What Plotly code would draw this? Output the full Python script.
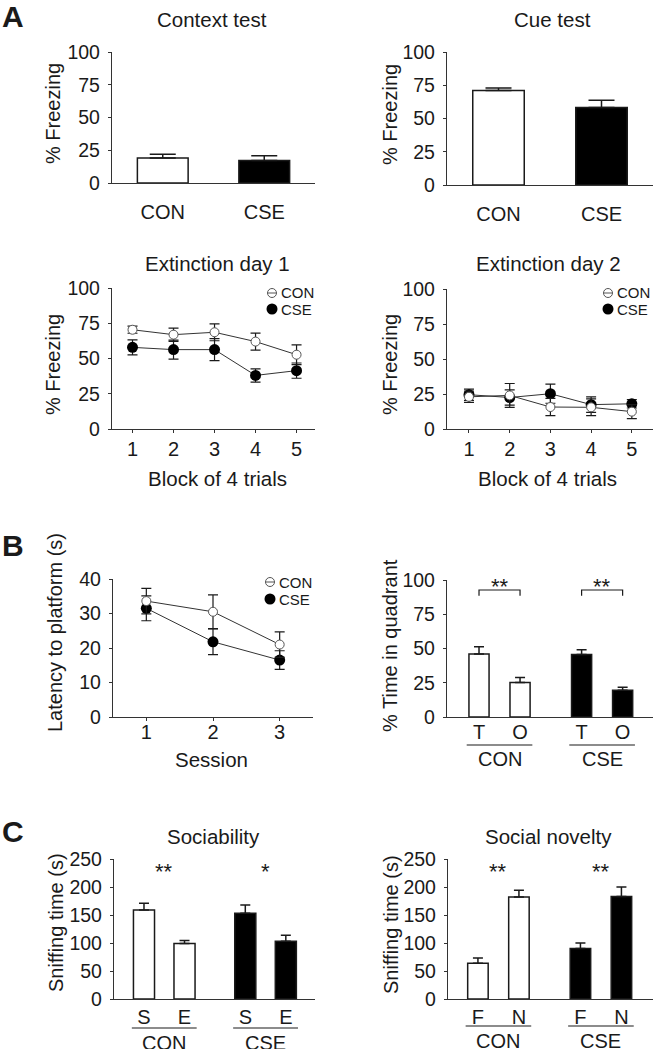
import plotly.graph_objects as go

W, H = 653, 1049
FONT = "Liberation Sans, Arial, sans-serif"
INK = "#1a1a1a"

# ---------------- data ----------------
groups = ["CON", "CSE"]
context_mean = [19.0, 17.2]
context_sem = [3.0, 3.6]
cue_mean = [71.0, 58.3]
cue_sem = [2.0, 5.5]

blocks = [1, 2, 3, 4, 5]
ext1_con = [70.4, 66.9, 68.6, 62.0, 52.7]
ext1_con_sem = [2.5, 4.7, 6.0, 6.0, 7.0]
ext1_cse = [57.9, 56.3, 56.3, 38.0, 41.4]
ext1_cse_sem = [5.3, 6.7, 7.8, 4.7, 5.4]
ext2_con = [23.0, 24.0, 15.7, 15.5, 12.4]
ext2_con_sem = [4.0, 8.5, 6.2, 6.0, 5.0]
ext2_cse = [24.5, 22.5, 25.2, 17.4, 18.0]
ext2_cse_sem = [4.0, 5.5, 6.8, 5.5, 3.0]

sessions = [1, 2, 3]
lat_con = [33.6, 30.5, 21.0]
lat_con_sem = [3.7, 4.9, 3.7]
lat_cse = [31.5, 21.8, 16.5]
lat_cse_sem = [3.6, 3.7, 2.7]

quad_labels = ["T", "O"]
quad_con = [45.9, 25.1]
quad_con_sem = [5.3, 3.7]
quad_cse = [45.6, 19.5]
quad_cse_sem = [3.4, 2.2]

soc_labels = ["S", "E"]
soc_con = [159, 99]
soc_con_sem = [12, 5.5]
soc_cse = [153, 103]
soc_cse_sem = [15, 11]

nov_labels = ["F", "N"]
nov_con = [64, 182]
nov_con_sem = [9, 12]
nov_cse = [90, 183]
nov_cse_sem = [10, 17]

# ---------------- helpers ----------------
def fx(p):
    return p / W


def fy(p):
    return 1 - p / H


pos_con = [0, 1]
pos_cse = [2.5, 3.5]

axes = {
    1: dict(x=(112, 315), y=(52, 183), xr=[-0.5, 1.5], yr=[0, 100], dt=25, kind="bar2"),
    2: dict(x=(447, 653), y=(52, 185), xr=[-0.5, 1.5], yr=[0, 100], dt=25, kind="bar2"),
    3: dict(x=(112, 315), y=(288, 429), xr=[0.5, 5.45], yr=[0, 100], dt=25, kind="line"),
    4: dict(x=(447, 653), y=(289, 429), xr=[0.46, 5.52], yr=[0, 100], dt=25, kind="line"),
    5: dict(x=(113, 313), y=(579, 717), xr=[0.5, 3.5], yr=[0, 40], dt=10, kind="line"),
    6: dict(x=(447, 653), y=(580, 717), xr=[-0.78, 4.24], yr=[0, 100], dt=25, kind="bar4"),
    7: dict(x=(114, 315), y=(859, 999), xr=[-0.74, 4.22], yr=[0, 250], dt=50, kind="bar4"),
    8: dict(x=(448, 653), y=(859, 999), xr=[-0.73, 4.27], yr=[0, 250], dt=50, kind="bar4"),
}


def xname(i):
    return "x" if i == 1 else f"x{i}"


def yname(i):
    return "y" if i == 1 else f"y{i}"


fig = go.Figure()


def err_up(sem, width):
    return dict(type="data", array=sem, arrayminus=[0] * len(sem), symmetric=False,
                color=INK, thickness=1.5, width=width, visible=True)


def err_sym(sem):
    return dict(type="data", array=sem, symmetric=True, color=INK,
                thickness=1.2, width=5, visible=True)


def bar(i, x, y, sem, fill, width, cap):
    fig.add_trace(go.Bar(
        x=x, y=y, width=width, xaxis=xname(i), yaxis=yname(i),
        marker=dict(color=fill, line=dict(color=INK, width=1.5)),
        error_y=err_up(sem, cap), showlegend=False, hoverinfo="skip"))


# Panel A: context / cue
bar(1, [0], context_mean[:1], context_sem[:1], "white", 0.5, 13)
bar(1, [1], context_mean[1:], context_sem[1:], "black", 0.5, 13)
bar(2, [0], cue_mean[:1], cue_sem[:1], "white", 0.5, 13)
bar(2, [1], cue_mean[1:], cue_sem[1:], "black", 0.5, 13)


def line_pair(i, x, con, con_sem, cse, cse_sem):
    fig.add_trace(go.Scatter(
        x=x, y=cse, mode="lines+markers", xaxis=xname(i), yaxis=yname(i),
        line=dict(color="#333", width=1),
        marker=dict(symbol="circle", size=11, color="black", line=dict(width=0)),
        error_y=err_sym(cse_sem), showlegend=False, hoverinfo="skip"))
    fig.add_trace(go.Scatter(
        x=x, y=con, mode="lines+markers", xaxis=xname(i), yaxis=yname(i),
        line=dict(color="#333", width=1),
        marker=dict(symbol="circle", size=9, color="white", line=dict(color="#555", width=1)),
        error_y=err_sym(con_sem), showlegend=False, hoverinfo="skip"))


line_pair(3, blocks, ext1_con, ext1_con_sem, ext1_cse, ext1_cse_sem)
line_pair(4, blocks, ext2_con, ext2_con_sem, ext2_cse, ext2_cse_sem)
line_pair(5, sessions, lat_con, lat_con_sem, lat_cse, lat_cse_sem)

# Panel B right, C
bar(6, pos_con, quad_con, quad_con_sem, "white", 0.49, 5)
bar(6, pos_cse, quad_cse, quad_cse_sem, "black", 0.49, 5)
bar(7, pos_con, soc_con, soc_con_sem, "white", 0.52, 5)
bar(7, pos_cse, soc_cse, soc_cse_sem, "black", 0.52, 5)
bar(8, pos_con, nov_con, nov_con_sem, "white", 0.5, 5)
bar(8, pos_cse, nov_cse, nov_cse_sem, "black", 0.5, 5)

# ---------------- axes ----------------
layout = dict(
    template="none",
    width=W, height=H, autosize=False, margin=dict(l=0, r=0, t=0, b=0, pad=0),
    paper_bgcolor="white", plot_bgcolor="white",
    font=dict(family=FONT, size=20, color=INK), showlegend=False,
    barmode="overlay",
)

xticks = {
    1: (pos_con, groups), 2: (pos_con, groups),
    3: (blocks, [str(b) for b in blocks]), 4: (blocks, [str(b) for b in blocks]),
    5: (sessions, [str(s) for s in sessions]),
    6: (pos_con + pos_cse, quad_labels * 2),
    7: (pos_con + pos_cse, soc_labels * 2),
    8: (pos_con + pos_cse, nov_labels * 2),
}
standoff = {1: 11, 2: 11, 3: -1, 4: -1, 5: -6, 6: -3, 7: 0, 8: 0}

for i, a in axes.items():
    kx = "xaxis" if i == 1 else f"xaxis{i}"
    ky = "yaxis" if i == 1 else f"yaxis{i}"
    tv, tt = xticks[i]
    layout[kx] = dict(
        domain=[fx(a["x"][0]), fx(a["x"][1])], anchor=yname(i), range=a["xr"],
        showgrid=False, zeroline=False, showline=True, linecolor="#333", linewidth=1.3,
        tickmode="array", tickvals=tv, ticktext=tt, tickfont=dict(size=20),
        ticks="outside" if a["kind"] == "line" else "", ticklen=3, tickwidth=1.3,
        tickcolor="#333", ticklabelstandoff=standoff[i], fixedrange=True,
        automargin=False,
    )
    layout[ky] = dict(
        domain=[fy(a["y"][1]), fy(a["y"][0])], anchor=xname(i), range=a["yr"],
        showgrid=False, zeroline=False, showline=True, linecolor="#333", linewidth=1.3,
        tickmode="linear", tick0=0, dtick=a["dt"], ticks="outside", ticklen=3,
        tickwidth=1.3, tickcolor="#333", ticklabelstandoff=4, fixedrange=True,
        tickfont=dict(size=19.5), automargin=False,
    )

fig.update_layout(**layout)

ann = []
shapes = []


def text(x, y, s, size=20, xref="paper", xanchor="center", angle=0, bold=False):
    ann.append(dict(x=x if xref != "paper" else fx(x), y=fy(y), xref=xref, yref="paper",
                    text=f"<b>{s}</b>" if bold else s, showarrow=False, xanchor=xanchor,
                    yanchor="middle", textangle=angle,
                    font=dict(family=FONT, size=size, color=INK)))


# panel letters
text(0, 16, "A", size=30, xanchor="left", bold=True)
text(0, 545, "B", size=30, xanchor="left", bold=True)
text(0, 831, "C", size=30, xanchor="left", bold=True)

# titles
text(212, 20, "Context test", size=20.5)
text(552, 20, "Cue test", size=20.5)
text(217, 263, "Extinction day 1", size=20.5)
text(548, 263, "Extinction day 2", size=20.5)
text(213, 836, "Sociability", size=20.5)
text(548, 836, "Social novelty", size=20.5)

# x titles
text(217, 478, "Block of 4 trials", size=20.5)
text(547, 478, "Block of 4 trials", size=20.5)
text(211, 759, "Session", size=20.5)

# y titles
text(53, 114, "% Freezing", angle=-90)
text(390, 115, "% Freezing", angle=-90)
text(53, 365, "% Freezing", angle=-90)
text(390, 365, "% Freezing", angle=-90)
text(55, 633, "Latency to platform (s)", angle=-90)
text(390, 646, "% Time in quadrant", angle=-90)
text(56, 923, "Sniffing time (s)", angle=-90)
text(391, 925, "Sniffing time (s)", angle=-90)

# legends (keys drawn as small circles)
for (mx, my_con, my_cse) in [(272, 293, 309), (608, 293, 309), (270, 582, 599)]:
    r1, r2 = 4.5, 5.5
    shapes.append(dict(type="circle", xref="paper", yref="paper",
                       x0=fx(mx - r1), x1=fx(mx + r1), y0=fy(my_con + r1), y1=fy(my_con - r1),
                       line=dict(color="#555", width=1), fillcolor="white"))
    shapes.append(dict(type="line", xref="paper", yref="paper",
                       x0=fx(mx - r1), x1=fx(mx + r1), y0=fy(my_con), y1=fy(my_con),
                       line=dict(color="#555", width=1)))
    shapes.append(dict(type="circle", xref="paper", yref="paper",
                       x0=fx(mx - r2), x1=fx(mx + r2), y0=fy(my_cse + r2), y1=fy(my_cse - r2),
                       line=dict(color="black", width=0), fillcolor="black"))
    text(mx + 7, my_con, "CON", size=15, xanchor="left")
    text(mx + 7, my_cse, "CSE", size=15, xanchor="left")

# group underline + labels for grouped bar panels
for i, yline, ylab in [(6, 745, 759), (7, 1028, 1043), (8, 1026, 1041)]:
    for (x0, x1, lab) in [(-0.3, 1.3, "CON"), (2.2, 3.8, "CSE")]:
        shapes.append(dict(type="line", xref=xname(i), yref="paper", x0=x0, x1=x1,
                           y0=fy(yline), y1=fy(yline), line=dict(color=INK, width=1.2)))
        text((x0 + x1) / 2, ylab, lab, xref=xname(i))

# significance brackets (panel B right)
for (x0, x1) in [(pos_con[0], pos_con[1]), (pos_cse[0], pos_cse[1])]:
    shapes.append(dict(type="path", xref="x6", yref="y6",
                       path=f"M {x0},88.5 L {x0},92.7 L {x1},92.7 L {x1},88.5",
                       line=dict(color=INK, width=1.2)))
    text((x0 + x1) / 2, 586, "**", size=22, xref="x6")

# stars panel C
text(0.5, 871, "**", size=22, xref="x7")
text(3.0, 871, "*", size=22, xref="x7")
text(0.5, 871, "**", size=22, xref="x8")
text(3.0, 871, "**", size=22, xref="x8")

fig.update_layout(annotations=ann, shapes=shapes)
fig.write_html(
    "out.html",
    config={"displayModeBar": False},
    post_script=(
        "document.documentElement.style.margin='0';"
        "document.body.style.margin='0';"
        "var d=document.getElementById('{plot_id}');"
        "d.style.position='absolute';d.style.top='0px';d.style.left='0px';"
    ),
)
